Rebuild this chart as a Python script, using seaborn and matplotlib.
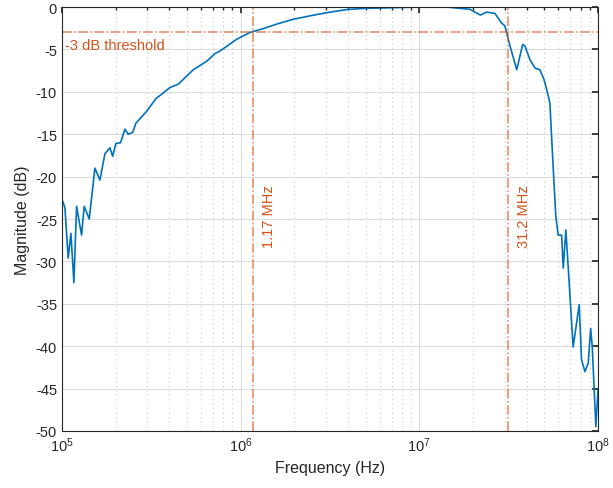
import numpy as np
import pandas as pd
import seaborn as sns
import matplotlib.pyplot as plt
from matplotlib.ticker import LogLocator, NullFormatter, FixedLocator

# frequency response
freq_hz = [1.01e5, 1.04e5, 1.084e5, 1.123e5, 1.167e5, 1.208e5, 1.288e5, 1.333e5, 1.422e5,
           1.53e5, 1.632e5, 1.741e5, 1.857e5, 1.923e5, 2.005e5, 2.13e5, 2.252e5, 2.35e5,
           2.488e5, 2.595e5, 2.98e5, 3.36e5, 3.61e5, 4.02e5, 4.48e5, 5.43e5, 6.46e5,
           7.18e5, 7.66e5, 9.5e5, 1.081e6, 1.128e6, 1.338e6, 1.6e6, 1.968e6, 2.5e6,
           3.03e6, 3.92e6, 5.0e6, 6.02e6, 8.0e6, 1.008e7, 1.422e7, 1.92e7, 2.2e7,
           2.38e7, 2.65e7, 2.89e7, 3.01e7, 3.08e7, 3.22e7, 3.51e7, 3.79e7, 3.9e7,
           4.16e7, 4.44e7, 4.73e7, 4.98e7, 5.16e7, 5.38e7, 5.61e7, 5.81e7, 5.99e7,
           6.26e7, 6.39e7, 6.61e7, 6.81e7, 7.26e7, 7.85e7, 8.09e7, 8.45e7, 8.82e7,
           9.1e7, 9.29e7, 9.73e7, 1.0e8]
mag_db = [-22.9, -23.7, -29.6, -26.7, -32.5, -23.5, -26.9, -23.5, -25.0,
          -19.0, -20.4, -17.3, -16.6, -17.6, -16.1, -16.0, -14.4, -15.0,
          -14.8, -13.7, -12.3, -10.8, -10.3, -9.5, -9.1, -7.4, -6.4,
          -5.5, -5.2, -3.8, -3.2, -3.0, -2.55, -2.0, -1.45, -1.0,
          -0.67, -0.3, -0.15, -0.12, -0.05, 0.0, 0.0, -0.27, -0.95,
          -0.6, -0.75, -1.9, -2.2, -3.0, -4.6, -7.4, -4.4, -4.6,
          -6.2, -7.2, -7.4, -8.5, -9.7, -11.3, -18.8, -24.7, -26.9,
          -26.9, -30.8, -26.3, -30.6, -40.1, -35.1, -41.6, -43.0, -42.0,
          -37.9, -40.1, -49.5, -45.2]

threshold_db = -3
cutoff_hz = [1.17e6, 31.2e6]
cutoff_labels = ["1.17 MHz", "31.2 MHz"]

df = pd.DataFrame({"freq": freq_hz, "mag": mag_db})

sns.set_theme(style="white")
plt.rcParams["font.family"] = ["Liberation Sans", "DejaVu Sans"]

blue = "#0072BD"
orange = "#D95319"

fig = plt.figure(figsize=(6.13, 4.89), dpi=100)
ax = fig.add_axes([0.101, 0.1166, 0.8745, 0.867])

sns.lineplot(data=df, x="freq", y="mag", color=blue, linewidth=1.2, ax=ax)

ax.set_xscale("log")
ax.set_xlim(1e5, 1e8)
ax.set_ylim(-50, 0)
ax.set_yticks(np.arange(-50, 1, 5))
ax.set_yticklabels([str(v) for v in range(-50, 1, 5)])
ax.xaxis.set_major_locator(FixedLocator([1e5, 1e6, 1e7, 1e8]))
ax.xaxis.set_minor_locator(LogLocator(base=10, subs=np.arange(2, 10)))
ax.xaxis.set_minor_formatter(NullFormatter())

ax.grid(True, which="major", color="#dcdcdc", linewidth=0.8, linestyle="-")
ax.grid(True, which="minor", axis="x", color="#c8c8c8", linewidth=0.8, linestyle=(0, (1, 3)))
ax.set_axisbelow(True)

for s in ax.spines.values():
    s.set_color("#262626")
    s.set_linewidth(0.8)
ax.tick_params(which="both", direction="in", top=True, right=True, colors="#262626",
               labelsize=10.5, length=4)
ax.tick_params(which="minor", length=2)

# threshold and cutoff markers
ax.axhline(threshold_db, color=orange, alpha=0.7, linewidth=1.1, linestyle="-.")
ax.text(1.04e5, threshold_db - 0.6, "-3 dB threshold", color=orange, fontsize=10.5,
        ha="left", va="top")
for f, lab in zip(cutoff_hz, cutoff_labels):
    ax.axvline(f, color=orange, alpha=0.7, linewidth=1.1, linestyle="-.")
    ax.text(f * 1.23, -24.6, lab, color=orange, fontsize=10.5, rotation=90,
            ha="center", va="center")

ax.set_xlabel("Frequency (Hz)", fontsize=11.5, color="#262626")
ax.set_ylabel("Magnitude (dB)", fontsize=11.5, color="#262626")

fig.savefig("out.png", dpi=100)
